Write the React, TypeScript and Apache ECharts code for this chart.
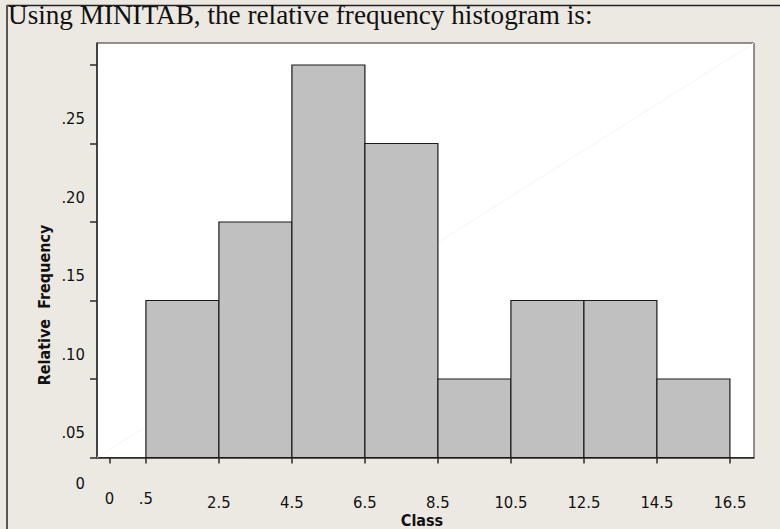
import React, { useEffect, useRef } from "react";
import * as echarts from "echarts";

// ---- data ----
const classLower = [0.5, 2.5, 4.5, 6.5, 8.5, 10.5, 12.5, 14.5];
const classUpper = [2.5, 4.5, 6.5, 8.5, 10.5, 12.5, 14.5, 16.5];
const relFreq = [0.1, 0.15, 0.25, 0.2, 0.05, 0.1, 0.1, 0.05];
const xTickValues = [-0.5, 0.5, 2.5, 4.5, 6.5, 8.5, 10.5, 12.5, 14.5, 16.5];
const xTickLabels = ["0", ".5", "2.5", "4.5", "6.5", "8.5", "10.5", "12.5", "14.5", "16.5"];
const yTickValues = [0, 0.05, 0.1, 0.15, 0.2, 0.25];
const yTickLabels = ["0", ".05", ".10", ".15", ".20", ".25"];
const xRange = [-0.84, 17.16];
const yRange = [0, 0.264];

const titleText = "Using MINITAB, the relative frequency histogram is:";
const xName = "Class";
const yName = "Relative  Frequency";

const SANS = "'DejaVu Sans Condensed', 'DejaVu Sans', sans-serif";
const SERIF = "'Liberation Serif', 'DejaVu Serif', serif";

export default function App() {
  const ref = useRef<HTMLDivElement>(null);
  useEffect(() => {
    if (!ref.current) return;
    const chart = echarts.init(ref.current, undefined, { renderer: "svg" });
    const bars = classLower.map((lo, i) => [lo, classUpper[i], relFreq[i]]);
    const findIdx = (arr: number[], v: number) => arr.findIndex((a) => Math.abs(a - v) < 1e-9);
    const labelStyle = { fontFamily: SANS, fontSize: 16.5, color: "#111" };

    chart.setOption({
      animation: false,
      backgroundColor: "#ECE9E2",
      grid: {
        left: 97,
        right: 26,
        top: 43,
        bottom: 71.5,
        show: true,
        backgroundColor: "#ffffff",
        borderColor: "#2a2a2a",
        borderWidth: 1,
      },
      xAxis: {
        type: "value",
        min: xRange[0],
        max: xRange[1],
        splitLine: { show: false },
        axisLine: { show: true, onZero: false, lineStyle: { color: "#2a2a2a", width: 1.5 } },
        axisTick: {
          show: true,
          customValues: xTickValues,
          length: 6,
          lineStyle: { color: "#2a2a2a", width: 1.5 },
        },
        axisLabel: {
          customValues: xTickValues,
          margin: 32,
          ...labelStyle,
          formatter: (v: number) => {
            const i = findIdx(xTickValues, v);
            const t = i >= 0 ? xTickLabels[i] : "";
            return i <= 1 ? "{z|" + t + "}" : "{n|" + t + "}";
          },
          rich: {
            z: { ...labelStyle },
            n: { ...labelStyle, padding: [4, 0, 0, 0] },
          },
        },
      },
      yAxis: {
        type: "value",
        min: yRange[0],
        max: yRange[1],
        splitLine: { show: false },
        axisLine: { show: true, onZero: false, lineStyle: { color: "#2a2a2a", width: 1.5 } },
        axisTick: {
          show: true,
          customValues: yTickValues,
          length: 7,
          lineStyle: { color: "#2a2a2a", width: 1.5 },
        },
        axisLabel: {
          customValues: yTickValues,
          margin: 12,
          ...labelStyle,
          formatter: (v: number) => {
            const i = findIdx(yTickValues, v);
            const t = i >= 0 ? yTickLabels[i] : "";
            return i === 0 ? "{z|" + t + "}" : "{d|" + t + "}";
          },
          rich: {
            z: { ...labelStyle, padding: [52, 0, 0, 0] },
            d: { ...labelStyle, padding: [108, 0, 0, 0] },
          },
        },
      },
      series: [
        {
          type: "line",
          data: [
            [xRange[0], yRange[0]],
            [xRange[1], yRange[1]],
          ],
          symbol: "none",
          silent: true,
          z: 1,
          lineStyle: { color: "#f4f4f4", width: 1 },
        },
        {
          type: "custom",
          z: 3,
          data: bars,
          encode: { x: [0, 1], y: 2 },
          renderItem: (params: any, api: any) => {
            const lo = api.value(0);
            const hi = api.value(1);
            const v = api.value(2);
            const p0 = api.coord([lo, v]);
            const p1 = api.coord([hi, 0]);
            return {
              type: "rect",
              shape: { x: p0[0], y: p0[1], width: p1[0] - p0[0], height: p1[1] - p0[1] },
              style: { fill: "#C0C0C0", stroke: "#1a1a1a", lineWidth: 1.2 },
            };
          },
        },
      ],
      graphic: [
        {
          type: "line",
          z: 10,
          shape: { x1: 7, y1: 5.5, x2: 780, y2: 5.5 },
          style: { stroke: "#222", lineWidth: 1.5 },
        },
        {
          type: "line",
          z: 10,
          shape: { x1: 7, y1: 5, x2: 7, y2: 529 },
          style: { stroke: "#555", lineWidth: 2 },
        },
        {
          type: "text",
          z: 11,
          x: 8,
          y: 15,
          style: {
            text: titleText,
            fontFamily: SERIF,
            fontSize: 27.2,
            fill: "#111",
            align: "left",
            verticalAlign: "middle",
          },
        },
        {
          type: "text",
          z: 11,
          x: 44,
          y: 305,
          rotation: Math.PI / 2,
          style: {
            text: yName,
            fontFamily: SANS,
            fontSize: 16,
            fontWeight: "bold",
            fill: "#111",
            align: "center",
            verticalAlign: "middle",
          },
        },
        {
          type: "text",
          z: 11,
          x: 422,
          y: 520,
          style: {
            text: xName,
            fontFamily: SANS,
            fontSize: 16,
            fontWeight: "bold",
            fill: "#111",
            align: "center",
            verticalAlign: "middle",
          },
        },
      ],
    });
    return () => chart.dispose();
  }, []);
  return <div ref={ref} style={{ position: "absolute", left: 0, top: 0, width: 780, height: 529 }} />;
}
